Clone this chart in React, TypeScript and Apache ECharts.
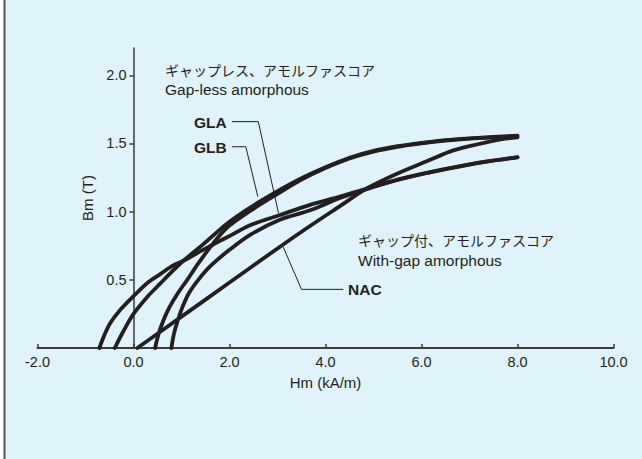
import React, { useEffect, useRef } from "react";
import * as echarts from "echarts";

// GLB loop (gap-less, thick upper band): descending branch and ascending branch
const glbDescH = [-0.39, -0.2, 0, 0.3, 0.55, 0.8, 1.04, 1.45, 1.94, 2.43, 3.0, 3.5, 4.0, 4.5, 5.0, 5.5, 6.0, 6.5, 7.0, 7.5, 8.0];
const glbDescB = [0, 0.13, 0.25, 0.38, 0.47, 0.56, 0.64, 0.76, 0.91, 1.03, 1.15, 1.245, 1.325, 1.395, 1.445, 1.48, 1.505, 1.525, 1.538, 1.548, 1.557];
const glbAscH = [0.45, 0.52, 0.62, 0.75, 0.92, 1.12, 1.35, 1.6, 1.94, 2.43, 3.0, 3.5, 4.0, 4.5, 5.0, 5.5, 6.0, 6.5, 7.0, 7.5, 8.0];
const glbAscB = [0, 0.1, 0.2, 0.3, 0.4, 0.5, 0.62, 0.74, 0.88, 1.005, 1.13, 1.235, 1.32, 1.39, 1.44, 1.475, 1.5, 1.52, 1.535, 1.545, 1.553];

// GLA loop (gap-less, lower tip)
const glaDescH = [-0.71, -0.6, -0.49, -0.3, 0, 0.3, 0.55, 0.8, 1.04, 1.45, 1.94, 2.43, 3.05, 3.68, 4.3, 4.86, 5.5, 6.18, 6.59, 7.3, 8.0];
const glaDescB = [0, 0.1, 0.18, 0.27, 0.38, 0.48, 0.54, 0.6, 0.64, 0.72, 0.81, 0.9, 0.975, 1.05, 1.11, 1.17, 1.235, 1.29, 1.32, 1.365, 1.4];
const glaAscH = [0.79, 0.84, 0.92, 1.02, 1.15, 1.35, 1.6, 2.0, 2.43, 3.05, 3.68, 4.3, 4.86, 5.5, 6.18, 6.59, 7.3, 8.0];
const glaAscB = [0, 0.1, 0.2, 0.3, 0.4, 0.5, 0.6, 0.72, 0.83, 0.94, 1.01, 1.1, 1.165, 1.232, 1.288, 1.318, 1.363, 1.398];

// NAC (with-gap amorphous)
const nacH = [0.08, 1.0, 2.0, 3.0, 3.7, 4.3, 4.86, 5.5, 6.18, 6.59, 7.0, 7.57, 8.0];
const nacB = [0, 0.23, 0.48, 0.73, 0.9, 1.04, 1.17, 1.28, 1.38, 1.44, 1.48, 1.525, 1.545];

// leader lines (data coordinates)
const leaderGLA = [[2.05, 1.66], [2.6, 1.66], [3.02, 0.99]];
const leaderGLB = [[2.05, 1.476], [2.34, 1.476], [2.59, 1.11]];
const leaderNAC = [[4.37, 0.43], [3.5, 0.43], [3.12, 0.74]];

const xTicks = [-2, 0, 2, 4, 6, 8, 10];
const yTicks = [0.5, 1.0, 1.5, 2.0];

const INK = "#231f20";
const EN = "'Liberation Sans', Arial, Helvetica, sans-serif";
const JP = "'Noto Sans CJK JP', sans-serif";

const X_MIN = -2;
const X_MAX = 10;
const GRID_LEFT = 37.5;
const GRID_RIGHT = 28.5;
const WIDTH = 642;

const pair = (h: number[], b: number[]) => h.map((v, i) => [v, b[i]]);

export default function App() {
  const ref = useRef<HTMLDivElement>(null);
  useEffect(() => {
    if (!ref.current) return;
    const chart = echarts.init(ref.current, null, { renderer: "svg" });
    // shift the y axis so that it stands at H = 0
    const plotW = WIDTH - GRID_LEFT - GRID_RIGHT;
    const yAxisOffset = -((0 - X_MIN) / (X_MAX - X_MIN)) * plotW;
    const curve = (name: string, data: number[][]) => ({
      name,
      type: "line",
      data,
      showSymbol: false,
      smooth: 0.3,
      lineStyle: { width: 3.8, color: INK, cap: "round", join: "round" },
      z: 3,
    });
    const leader = (name: string, data: number[][]) => ({
      name,
      type: "line",
      data,
      showSymbol: false,
      smooth: false,
      lineStyle: { width: 1, color: INK },
      z: 2,
    });
    chart.setOption({
      animation: false,
      backgroundColor: "#ffffff",
      grid: { left: GRID_LEFT, right: GRID_RIGHT, top: 48, bottom: 111, containLabel: false, outerBoundsMode: "none" },
      xAxis: {
        type: "value",
        min: X_MIN,
        max: X_MAX,
        interval: 2,
        name: "Hm (kA/m)",
        nameLocation: "middle",
        nameGap: 27,
        nameTextStyle: { fontFamily: EN, fontSize: 15, color: INK },
        axisLine: { onZero: false, lineStyle: { color: "#3a3a3a", width: 2 } },
        axisTick: { show: true, inside: true, length: 4, customValues: xTicks, lineStyle: { color: "#3a3a3a", width: 1.5 } },
        axisLabel: {
          customValues: xTicks,
          formatter: (v: number) => v.toFixed(1),
          fontFamily: EN,
          fontSize: 14.5,
          color: INK,
          margin: 6,
        },
        splitLine: { show: false },
      },
      yAxis: {
        type: "value",
        min: 0,
        max: 2.2,
        interval: 0.5,
        offset: yAxisOffset,
        name: "Bm (T)",
        nameLocation: "middle",
        nameGap: 36,
        nameTextStyle: { fontFamily: EN, fontSize: 15, color: INK },
        axisLine: { show: true, onZero: false, lineStyle: { color: "#3a3a3a", width: 1.5 } },
        axisTick: { show: true, inside: false, length: 4, customValues: yTicks, lineStyle: { color: "#3a3a3a", width: 1.5 } },
        axisLabel: {
          customValues: yTicks,
          formatter: (v: number) => v.toFixed(1),
          fontFamily: EN,
          fontSize: 14.5,
          color: INK,
          margin: 7,
        },
        splitLine: { show: false },
      },
      graphic: [
        { type: "rect", z: -10, shape: { x: 5, y: 0, width: 637, height: 459 }, style: { fill: "#e0f3fa" } },
        { type: "rect", z: -9, shape: { x: 3.5, y: 0, width: 2, height: 459 }, style: { fill: "#555555" } },
        { type: "text", z: 10, style: { text: "ギャップレス、アモルファスコア", x: 165, y: 70, font: `14px ${JP}`, fill: INK, verticalAlign: "middle" } },
        { type: "text", z: 10, style: { text: "Gap-less amorphous", x: 165, y: 89.5, font: `15.5px ${EN}`, fill: INK, verticalAlign: "middle" } },
        { type: "text", z: 10, style: { text: "GLA", x: 194, y: 122, font: `bold 15.5px ${EN}`, fill: INK, verticalAlign: "middle" } },
        { type: "text", z: 10, style: { text: "GLB", x: 194, y: 147, font: `bold 15.5px ${EN}`, fill: INK, verticalAlign: "middle" } },
        { type: "text", z: 10, style: { text: "NAC", x: 348, y: 289.5, font: `bold 15.5px ${EN}`, fill: INK, verticalAlign: "middle" } },
        { type: "text", z: 10, style: { text: "ギャップ付、アモルファスコア", x: 358, y: 239.5, font: `14px ${JP}`, fill: INK, verticalAlign: "middle" } },
        { type: "text", z: 10, style: { text: "With-gap amorphous", x: 358, y: 260, font: `15.5px ${EN}`, fill: INK, verticalAlign: "middle" } },
      ],
      series: [
        curve("GLB descending", pair(glbDescH, glbDescB)),
        curve("GLB ascending", pair(glbAscH, glbAscB)),
        curve("GLA descending", pair(glaDescH, glaDescB)),
        curve("GLA ascending", pair(glaAscH, glaAscB)),
        curve("NAC", pair(nacH, nacB)),
        leader("GLA leader", leaderGLA),
        leader("GLB leader", leaderGLB),
        leader("NAC leader", leaderNAC),
      ],
    });
    return () => chart.dispose();
  }, []);
  return <div ref={ref} style={{ position: "fixed", left: 0, top: 0, width: 642, height: 459 }} />;
}
